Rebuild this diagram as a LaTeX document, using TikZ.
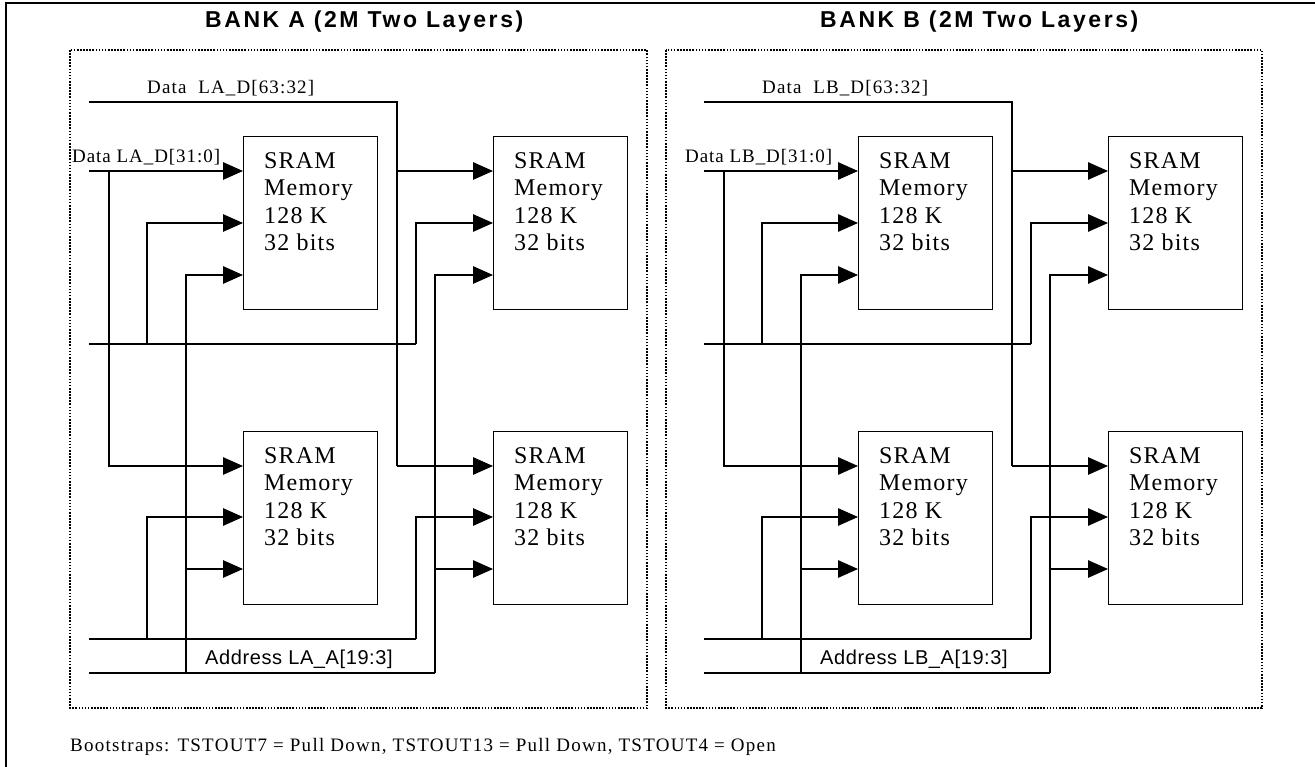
\documentclass[tikz,border=0pt]{standalone}
\usepackage{fontspec}
\setmainfont{Liberation Serif}
\newfontfamily\headfont{Liberation Sans}
\usetikzlibrary{arrows.meta}
\tikzset{
  wire/.style={line width=1.3pt,black},
  feed/.style={wire,-{Triangle[length=20pt,width=17.5pt,fill=black]}},
  sram/.style={draw,line width=1.4pt,minimum width=134pt,minimum height=173pt,anchor=north west,inner sep=0pt,fill=white},
  sramtext/.style={anchor=north west,align=left,font=\fontsize{24}{27.5}\selectfont,inner sep=0pt},
  bankbox/.style={draw,line width=1.6pt,dash pattern=on 1.6pt off 1.5pt},
  head/.style={font=\headfont\bfseries\fontsize{23}{26}\selectfont,anchor=base west,inner sep=0pt},
  small/.style={font=\fontsize{19}{22}\selectfont,anchor=base west,inner sep=0pt},
  smallsans/.style={font=\headfont\fontsize{20}{22}\selectfont,anchor=base west,inner sep=0pt},
}
\newcommand{\bankdraw}[5]{%
\begin{scope}[xshift=#1pt]
  \node[sram] (#2a) at (243,136) {};
  \node[sram] (#2b) at (493,136) {};
  \node[sram] (#2c) at (243,431) {};
  \node[sram] (#2d) at (493,431) {};
  \foreach \n/\xx/\yy in {#2a/264/152,#2b/514/152,#2c/264/447,#2d/514/447}
    \node[sramtext] (\n t) at (\xx,\yy) {\addfontfeatures{LetterSpace=5}SRAM\\\addfontfeatures{LetterSpace=5}Memory\\\addfontfeatures{LetterSpace=5}128 K\\\addfontfeatures{LetterSpace=5}32 bits};
  \coordinate (#2s1) at (89,102);
  \coordinate (#2s2) at (89,171);
  \coordinate (#2s3) at (89,344);
  \coordinate (#2s4) at (89,639);
  \coordinate (#2s5) at (89,673);
  % data high
  \draw[wire] (#2s1) -| (397,466);
  \draw[feed] (398,171) -- (#2b.north west |- 0,171);
  \draw[feed] (397,466) -- (#2d.north west |- 0,466);
  % data low
  \draw[feed] (#2s2) -- (#2a.north west |- 0,171);
  \draw[feed] (109,171) |- (#2c.north west |- 0,466);
  % upper control
  \draw[wire] (#2s3) -- (416,344);
  \draw[feed] (147,344) |- (#2a.north west |- 0,223);
  \draw[feed] (416,344) |- (#2b.north west |- 0,223);
  % lower control
  \draw[wire] (#2s4) -- (416,639);
  \draw[feed] (147,639) |- (#2c.north west |- 0,517);
  \draw[feed] (416,639) |- (#2d.north west |- 0,517);
  % address
  \draw[wire] (#2s5) -- (435,673);
  \draw[feed] (186,673) |- (#2a.north west |- 0,275);
  \draw[feed] (435,673) |- (#2b.north west |- 0,275);
  \draw[feed] (186,569) -- (#2c.north west |- 0,569);
  \draw[feed] (435,569) -- (#2d.north west |- 0,569);
  \node[small] (#2l1) at (147,94) {\addfontfeatures{LetterSpace=6}Data\ \ #3\_D[63:32]};
  \node[small] (#2l2) at (#4,163) {\addfontfeatures{LetterSpace=5}Data #3\_D[31:0]};
  \node[smallsans] (#2l3) at (205,664) {\addfontfeatures{LetterSpace=3}Address #3\_A[19:3]};
\end{scope}}
\begin{document}
\begin{tikzpicture}[x=1pt,y=-1pt]
\useasboundingbox (0,0) rectangle (1315,767);
\draw[line width=2pt] (6,767) -- (6,2.8) -- (1315,2.8);
\node[head] (ta) at (205,28) {\addfontfeatures{LetterSpace=11.2}BANK A (2M Two Layers)};
\node[head] (tb) at (820,28) {\addfontfeatures{LetterSpace=11.2}BANK B (2M Two Layers)};
\draw[bankbox] (70,50) rectangle (647,708);
\draw[bankbox] (666,50) rectangle (1262,708);
\bankdraw{0}{A}{LA}{72}{}
\bankdraw{615}{B}{LB}{70}{}
\node[small] (boot) at (70,751) {\addfontfeatures{LetterSpace=6.7}Bootstraps: TSTOUT7 = Pull Down, TSTOUT13 = Pull Down, TSTOUT4 = Open};
\end{tikzpicture}
\end{document}
